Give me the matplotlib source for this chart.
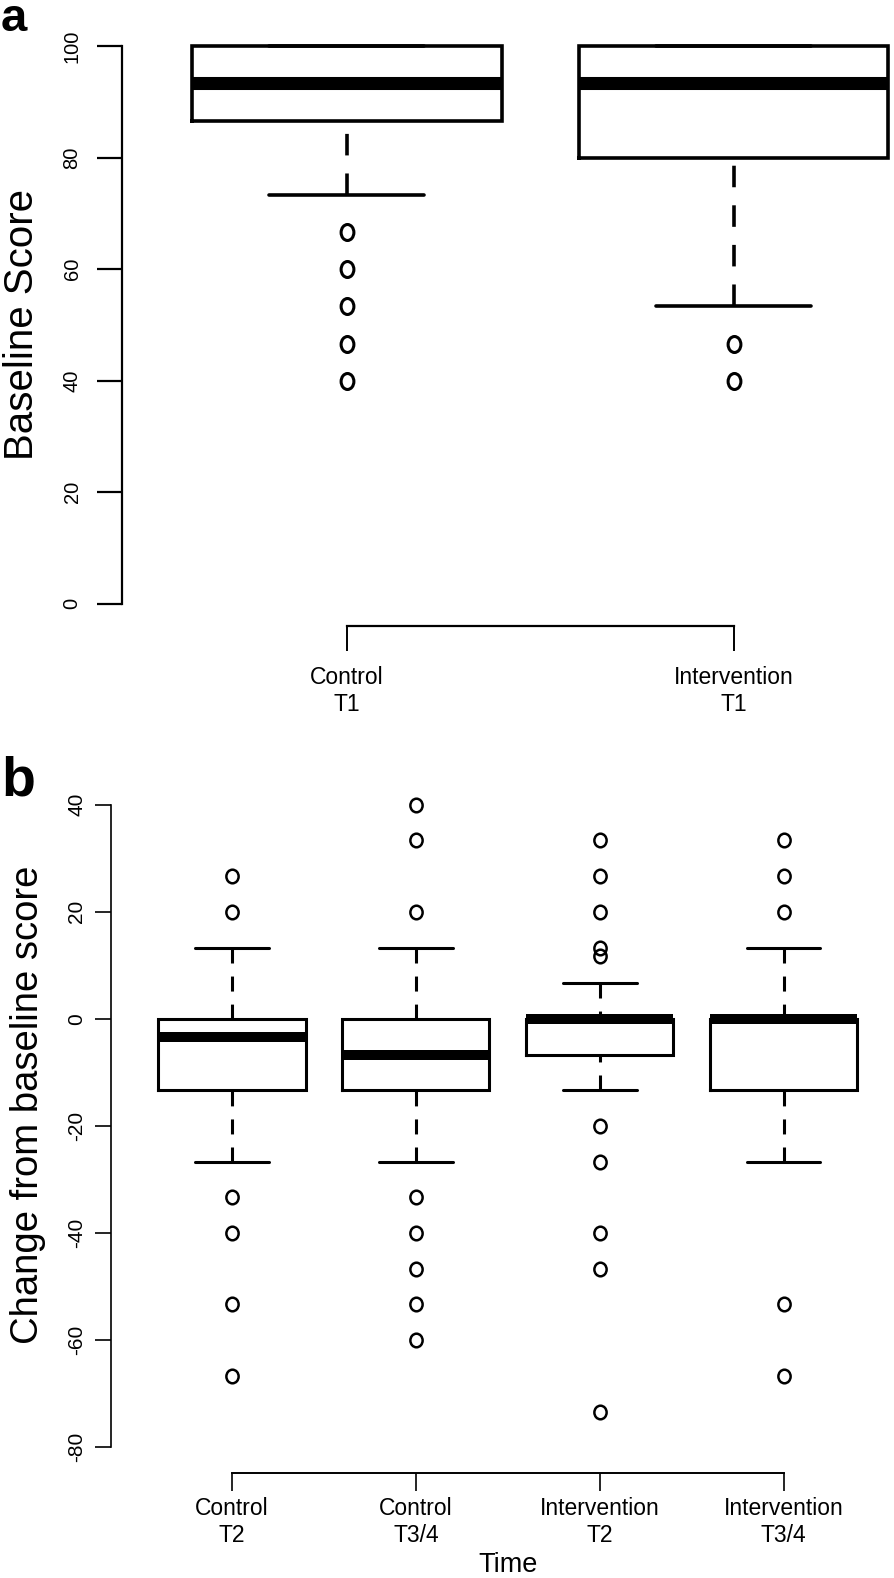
import matplotlib
matplotlib.use("Agg")
import matplotlib.pyplot as plt
from matplotlib.path import Path
import numpy as np

plt.rcParams['font.family'] = ['Liberation Sans', 'DejaVu Sans']
plt.rcParams['lines.scale_dashes'] = False

# ---------------- data ----------------
a_labels = ["Control\nT1", "Intervention\nT1"]
a_q1 = [86.67, 80.0]
a_med = [93.33, 93.33]
a_q3 = [100.0, 100.0]
a_whislo = [73.33, 53.33]
a_whishi = [100.0, 100.0]
a_fliers = [[66.67, 60.0, 53.33, 46.67, 40.0],
            [46.67, 40.0]]
a_yticks = [0, 20, 40, 60, 80, 100]

b_labels = ["Control\nT2", "Control\nT3/4", "Intervention\nT2", "Intervention\nT3/4"]
b_q1 = [-13.33, -13.33, -6.67, -13.33]
b_med = [-3.33, -6.67, 0.0, 0.0]
b_q3 = [0.0, 0.0, 0.0, 0.0]
b_whislo = [-26.67, -26.67, -13.33, -26.67]
b_whishi = [13.33, 13.33, 6.67, 13.33]
b_fliers = [[26.67, 20.0, -33.33, -40.0, -53.33, -66.67],
            [40.0, 33.33, 20.0, -33.33, -40.0, -46.67, -53.33, -60.0],
            [33.33, 26.67, 20.0, 13.33, 11.67, -20.0, -26.67, -40.0, -46.67, -73.33],
            [33.33, 26.67, 20.0, -53.33, -66.67]]
b_yticks = [-80, -60, -40, -20, 0, 20, 40]

# ---------------- figure ----------------
W, H = 894, 1578
fig = plt.figure(figsize=(W / 100, H / 100), dpi=100)


def axes_px(left, right, top, bottom):
    return fig.add_axes([left / W, 1 - bottom / H, (right - left) / W, (bottom - top) / H])


def ellipse_marker(ratio):
    circ = Path.unit_circle()
    v = circ.vertices.copy()
    v[:, 0] *= ratio
    return Path(v, circ.codes)


def draw(ax, labels, q1, med, q3, lo, hi, fliers, lw, medlw, dash, mk, ms, mew):
    stats = [dict(label=l, q1=a, med=m, q3=b, whislo=w1, whishi=w2, fliers=f)
             for l, a, m, b, w1, w2, f in zip(labels, q1, med, q3, lo, hi, fliers)]
    pos = np.arange(1, len(stats) + 1)
    res = ax.bxp(stats, positions=pos, widths=0.8, capwidths=0.4,
                 boxprops=dict(color='black', linewidth=lw, solid_joinstyle='miter'),
                 whiskerprops=dict(color='black', linewidth=lw, linestyle=(0, dash),
                                   dash_capstyle='butt'),
                 capprops=dict(color='black', linewidth=lw, solid_capstyle='round'),
                 medianprops=dict(color='black', linewidth=medlw, solid_capstyle='butt'),
                 flierprops=dict(marker=mk, markersize=ms, markerfacecolor='none',
                                 markeredgecolor='black', markeredgewidth=mew,
                                 linestyle='none'))
    # R draws whiskers starting from the whisker end
    for wl in res['whiskers']:
        wl.set_ydata(wl.get_ydata()[::-1])
        wl.set_xdata(wl.get_xdata()[::-1])
    return res


# ---------- panel a ----------
axA = axes_px(122.5, 958, 24, 626)
draw(axA, a_labels, a_q1, a_med, a_q3, a_whislo, a_whishi, a_fliers,
     lw=2.6, medlw=9.4, dash=(15.5, 13.0), mk=ellipse_marker(0.8), ms=11.5, mew=2.2)
axA.set_xlim(0.42, 2.58)
axA.set_ylim(-4, 104)
axA.set_yticks(a_yticks)
axA.set_yticklabels([str(t) for t in a_yticks])
for s in ['top', 'right']:
    axA.spines[s].set_visible(False)
axA.spines['left'].set_bounds(0, 100)
axA.spines['bottom'].set_bounds(1, 2)
axA.spines['left'].set_linewidth(1.6)
axA.spines['bottom'].set_linewidth(1.6)
axA.tick_params(axis='y', length=18, width=1.6, labelsize=14.5, pad=11.5, labelrotation=90)
axA.tick_params(axis='x', length=18, width=1.4, labelsize=16.5, pad=11)
for lb in axA.get_yticklabels():
    lb.set_va('center')
for lb in axA.get_xticklabels():
    lb.set_linespacing(1.2)
fig.text(22 / W, 1 - 325 / H, "Baseline Score", rotation=90, fontsize=29,
         ha='center', va='center')
fig.text(1 / W, 1 - 31 / H, "a", fontsize=34, fontweight='bold', ha='left', va='baseline')

# ---------- panel b ----------
axB = axes_px(110.6, 905, 779, 1473)
draw(axB, b_labels, b_q1, b_med, b_q3, b_whislo, b_whishi, b_fliers,
     lw=2.2, medlw=7.2, dash=(10.8, 9.4), mk=ellipse_marker(0.9), ms=9.8, mew=1.8)
axB.set_xlim(0.34, 4.66)
axB.set_ylim(-84.8, 44.8)
axB.set_yticks(b_yticks)
axB.set_yticklabels([str(t) for t in b_yticks])
for s in ['top', 'right']:
    axB.spines[s].set_visible(False)
axB.spines['left'].set_bounds(-80, 40)
axB.spines['bottom'].set_bounds(1, 4)
axB.spines['left'].set_linewidth(1.2)
axB.spines['bottom'].set_linewidth(1.4)
axB.tick_params(axis='y', length=11.5, width=1.2, labelsize=15, pad=6, labelrotation=90)
axB.tick_params(axis='x', length=13, width=1.2, labelsize=16.5, pad=4)
for lb in axB.get_yticklabels():
    lb.set_va('center')
for lb in axB.get_xticklabels():
    lb.set_linespacing(1.27)
fig.text(28 / W, 1 - 1105 / H, "Change from baseline score", rotation=90, fontsize=27.5,
         ha='center', va='center')
fig.text(508 / W, 1 - 1565 / H, "Time", fontsize=19.5, ha='center', va='center')
fig.text(1 / W, 1 - 796 / H, "b", fontsize=40, fontweight='bold', ha='left', va='baseline')

fig.savefig("out.png", dpi=100)
